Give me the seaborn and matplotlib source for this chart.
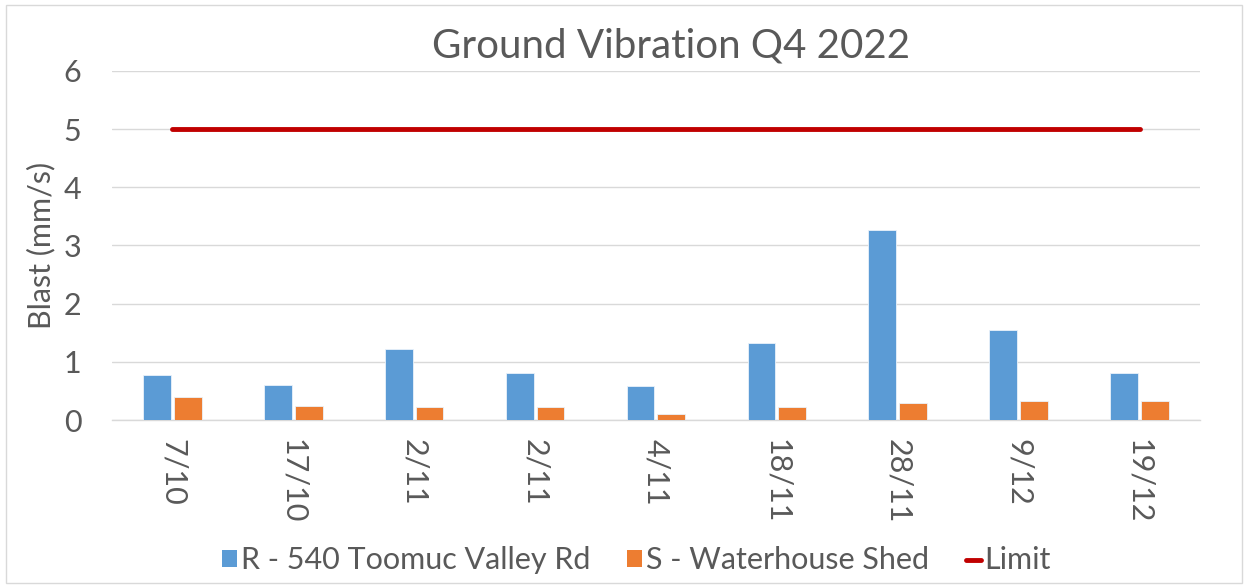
import pandas as pd
import numpy as np
import matplotlib
matplotlib.use("Agg")
import matplotlib.pyplot as plt
import seaborn as sns
from matplotlib.patches import Patch, Rectangle
from matplotlib.lines import Line2D

# Chart data
dates = ["7/10", "17/10", "2/11", "2/11", "4/11", "18/11", "28/11", "9/12", "19/12"]
site_r = [0.78, 0.61, 1.22, 0.81, 0.58, 1.33, 3.27, 1.54, 0.81]
site_s = [0.39, 0.24, 0.23, 0.22, 0.11, 0.23, 0.29, 0.33, 0.33]
limit = [5, 5, 5, 5, 5, 5, 5, 5, 5]
series_names = ["R - 540 Toomuc Valley Rd", "S - Waterhouse Shed"]

blue = "#5B9BD5"
orange = "#ED7D31"
red = "#C00000"
grey_text = "#595959"
grid_col = "#D9D9D9"

# long format table for seaborn (index keeps the duplicate 2/11 apart)
idx = list(range(len(dates)))
df = pd.DataFrame({
    "idx": idx * 2,
    "value": site_r + site_s,
    "series": [series_names[0]] * len(idx) + [series_names[1]] * len(idx),
})

sns.set_theme(style="white")
plt.rcParams["font.family"] = ["Lato", "DejaVu Sans"]

fig = plt.figure(figsize=(12.48, 5.88), dpi=100)
ax = fig.add_axes([0.0897, 0.2857, 0.8718, 0.5936])

sns.barplot(data=df, x="idx", y="value", hue="series", hue_order=series_names,
            palette=[blue, orange], saturation=1, width=0.51, gap=0.1, ax=ax,
            edgecolor="#EAF2FA", linewidth=0.6, legend=False, zorder=3)

# limit line across the category centres
ax.plot(idx, limit, color=red, linewidth=3.5, solid_capstyle="round", zorder=4)

ax.set_xlim(-0.5, len(dates) - 0.5)
ax.set_ylim(0, 6)
ax.set_yticks(range(0, 7))
ax.yaxis.grid(True, color=grid_col, linewidth=1, zorder=0)
ax.set_axisbelow(True)
for s in ["top", "right", "left"]:
    ax.spines[s].set_visible(False)
ax.spines["bottom"].set_color(grid_col)
ax.spines["bottom"].set_linewidth(1)

ax.set_xticks(idx)
ax.set_xticklabels(dates, rotation=-90, fontsize=22, color=grey_text)
ax.tick_params(axis="x", length=0, pad=14)
ax.tick_params(axis="y", length=0, pad=22, labelsize=22, labelcolor=grey_text)
for lbl in ax.get_xticklabels():
    lbl.set_verticalalignment("top")
    lbl.set_horizontalalignment("center")

ax.set_xlabel("")
ax.set_ylabel("Blast (mm/s)", fontsize=22, color=grey_text)
ax.yaxis.set_label_coords(-0.052, 0.5)

fig.text(0.538, 0.922, "Ground Vibration Q4 2022", ha="center", va="center",
         fontsize=29, color=grey_text)

handles = [
    Patch(facecolor=blue, edgecolor="none"),
    Patch(facecolor=orange, edgecolor="none"),
    Line2D([0], [0], color=red, linewidth=3.5, solid_capstyle="round"),
]
fig.legend(handles, series_names + ["Limit"], loc="center", ncol=3,
           bbox_to_anchor=(0.51, 0.047), frameon=False, fontsize=22,
           labelcolor=grey_text, handlelength=0.5, handleheight=0.5,
           handletextpad=0.12, columnspacing=1.2)

# light frame around the chart area
fig.patches.append(Rectangle((0.005, 0.008), 0.99, 0.984, transform=fig.transFigure,
                             fill=False, edgecolor=grid_col, linewidth=1))

fig.savefig("out.png", dpi=100, facecolor="white")
